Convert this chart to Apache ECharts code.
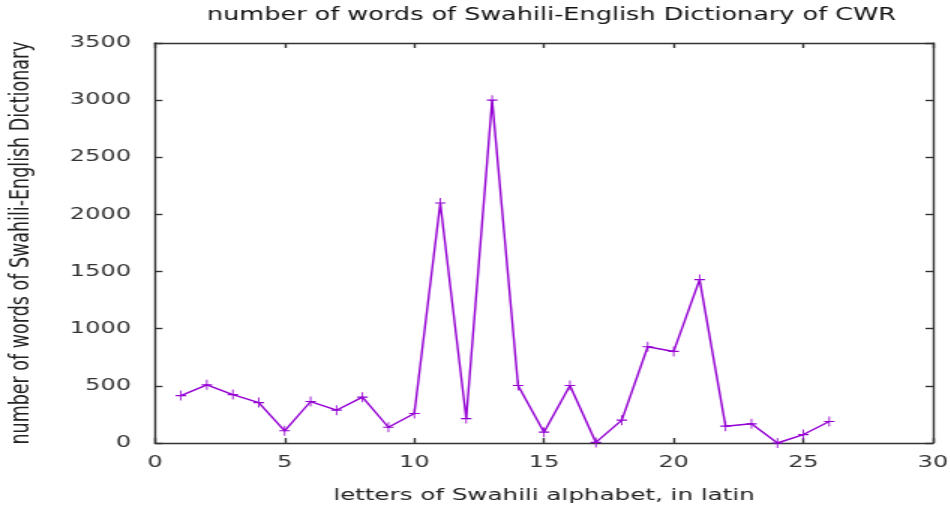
<!DOCTYPE html>
<html>
<head>
<meta charset="utf-8">
<script src="https://cdn.jsdelivr.net/npm/echarts@6/dist/echarts.min.js"></script>
<style>
html,body{margin:0;padding:0;background:#fff;overflow:hidden}
#wrap{width:950px;height:512px;overflow:hidden}
/* the reference picture is stretched horizontally by ~1.5; reproduce that */
#c{width:633.33px;height:512px;transform:scaleX(1.5);transform-origin:0 0}
</style>
</head>
<body>
<div id="wrap"><div id="c"></div></div>
<script>
const letters = [1,2,3,4,5,6,7,8,9,10,11,12,13,14,15,16,17,18,19,20,21,22,23,24,25,26];
const wordCounts = [415,509,424,354,107,363,287,401,138,258,2100,214,3000,503,95,503,5,200,842,801,1430,147,168,0,74,188];
const xTicks = [0,5,10,15,20,25,30];
const yTicks = [0,500,1000,1500,2000,2500,3000,3500];

const font = 'DejaVu Sans';
const axisColor = '#333';
const lineColor = '#9400d3';
const plus = 'path://M0,4.4 H10 V5.6 H0 Z M4.4,0 H5.6 V10 H4.4 Z';
const sx = 1.5;

const chart = echarts.init(document.getElementById('c'), null, {renderer:'canvas', width:950/sx, height:512});
const baseAxis = {
  axisLine:{show:true, onZero:false, lineStyle:{color:axisColor, width:1.4}},
  axisTick:{show:true, inside:true, length:5, lineStyle:{color:axisColor, width:1.4}},
  splitLine:{show:false}
};
chart.setOption({
  animation:false,
  backgroundColor:'#fff',
  title:{
    text:'number of words of Swahili-English Dictionary of CWR',
    left:544/sx, top:2, textAlign:'center',
    textStyle:{fontFamily:font, fontSize:17, fontWeight:'normal', color:'#111'}
  },
  grid:{left:155/sx, right:17/sx, top:43, bottom:69, containLabel:false, outerBoundsMode:'none'},
  xAxis:[
    Object.assign({}, baseAxis, {
      type:'value', min:xTicks[0], max:xTicks[xTicks.length-1], interval:5, position:'bottom',
      name:'letters of Swahili alphabet, in latin', nameLocation:'middle', nameGap:45,
      nameTextStyle:{fontFamily:font, fontSize:16.4, color:'#222'},
      axisLabel:{fontFamily:font, fontSize:16, color:'#333', margin:12}
    }),
    Object.assign({}, baseAxis, {
      type:'value', min:xTicks[0], max:xTicks[xTicks.length-1], interval:5, position:'top',
      axisLabel:{show:false}
    })
  ],
  yAxis:[
    Object.assign({}, baseAxis, {
      type:'value', min:yTicks[0], max:yTicks[yTicks.length-1], interval:500, position:'left',
      name:'number of words of Swahili-English Dictionary', nameLocation:'middle', nameGap:80,
      nameTextStyle:{fontFamily:font, fontSize:17.5, color:'#222'},
      axisLabel:{fontFamily:font, fontSize:16, color:'#333', margin:24/sx, formatter:(v)=>String(v)}
    }),
    Object.assign({}, baseAxis, {
      type:'value', min:yTicks[0], max:yTicks[yTicks.length-1], interval:500, position:'right',
      axisLabel:{show:false}
    })
  ],
  series:[{
    type:'line',
    data:letters.map((l,i)=>[l, wordCounts[i]]),
    lineStyle:{color:lineColor, width:1.4},
    itemStyle:{color:lineColor},
    symbol:plus, symbolSize:[7,10], showSymbol:true,
    emphasis:{disabled:true}
  }]
});
</script>
</body>
</html>
